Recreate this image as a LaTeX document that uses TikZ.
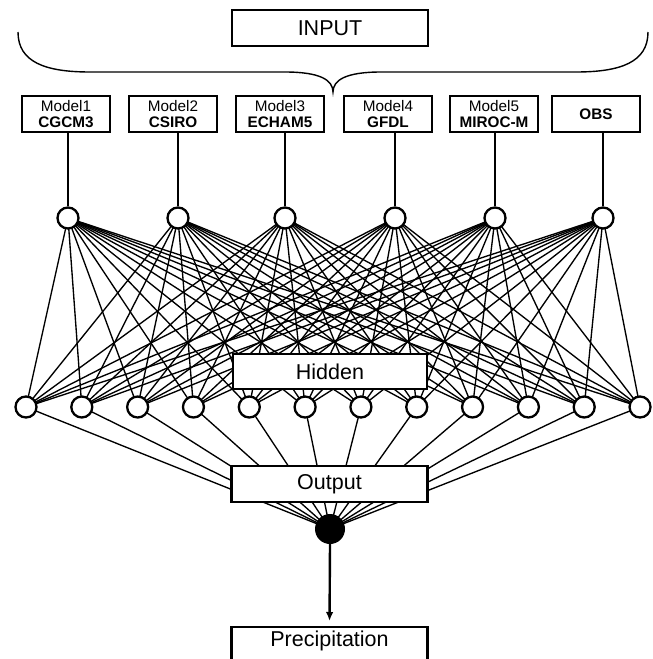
\documentclass[tikz,border=0pt]{standalone}
\usepackage{fontspec}
\setmainfont{Liberation Sans}
\usetikzlibrary{arrows.meta,backgrounds}
\begin{document}
\begin{tikzpicture}[x=1pt,y=-1pt,
  conn/.style={line width=1.35pt},
  bigbox/.style={draw, line width=2.2pt, fill=white, minimum width=196pt, minimum height=36pt, inner sep=0pt, font=\fontsize{21.5}{24}\selectfont},
  modelbox/.style={draw, line width=2.5pt, fill=white, minimum width=88pt, minimum height=36pt, inner sep=0pt, align=center, font=\fontsize{15.3}{16}\selectfont},
  neuron/.style={circle, draw, line width=2.3pt, fill=white, minimum size=21pt, inner sep=0pt},
  outneuron/.style={circle, fill=black, minimum size=30pt, inner sep=0pt},
]
\useasboundingbox (0,0) rectangle (653,659);

% input box and brace
\node[bigbox] (input) at (330,28) {INPUT};
\draw[line width=1.4pt] (18,32) .. controls (18,62) and (45,72) .. (90,72) -- (285,72)
  .. controls (320,72) and (333,80) .. (333,92)
  .. controls (333,80) and (346,72) .. (381,72) -- (576,72)
  .. controls (621,72) and (648,62) .. (648,32);

% model boxes
\node[modelbox] (m1) at (66,114) {Model1\\\textbf{CGCM3}};
\node[modelbox] (m2) at (173,114) {Model2\\\textbf{CSIRO}};
\node[modelbox] (m3) at (280,114) {Model3\\\textbf{ECHAM5}};
\node[modelbox] (m4) at (388,114) {Model4\\\textbf{GFDL}};
\node[modelbox] (m5) at (494,114) {Model5\\\textbf{MIROC-M}};
\node[modelbox] (m6) at (596,114) {\textbf{OBS}};

% top neurons
\foreach \x [count=\i] in {68,178,285,395,495,603}
  \node[neuron] (t\i) at (\x,218) {};

% bottom neurons
\foreach \j in {1,...,12}
  \node[neuron] (b\j) at ({26+55.82*(\j-1)},407) {};

% hidden and output boxes
\node[bigbox, minimum width=194pt, minimum height=35pt] (hidden) at (330,371.5) {Hidden};
\node[bigbox] (output) at (329.5,484) {Output};
\node[outneuron] (out) at (330,529) {};

% precipitation box (continues below the picture)
\node[bigbox, anchor=north, text height=16pt, text depth=12.4pt] (prec) at (329.5,626) {Precipitation};

\begin{pgfonlayer}{background}
  \foreach \i in {1,...,6}{
    \draw[conn] (t\i.north) -- (t\i |- m\i.south);
    \foreach \j in {1,...,12}
      \draw[conn] (t\i.center) -- (b\j.center);
  }
  \foreach \j in {1,...,12}
    \draw[conn] (b\j.center) -- (out.center);
\end{pgfonlayer}

\draw[line width=2.4pt, -{Latex[length=9pt,width=7.5pt]}, shorten >=5pt] (out.south) -- (prec.north);
\end{tikzpicture}
\end{document}
